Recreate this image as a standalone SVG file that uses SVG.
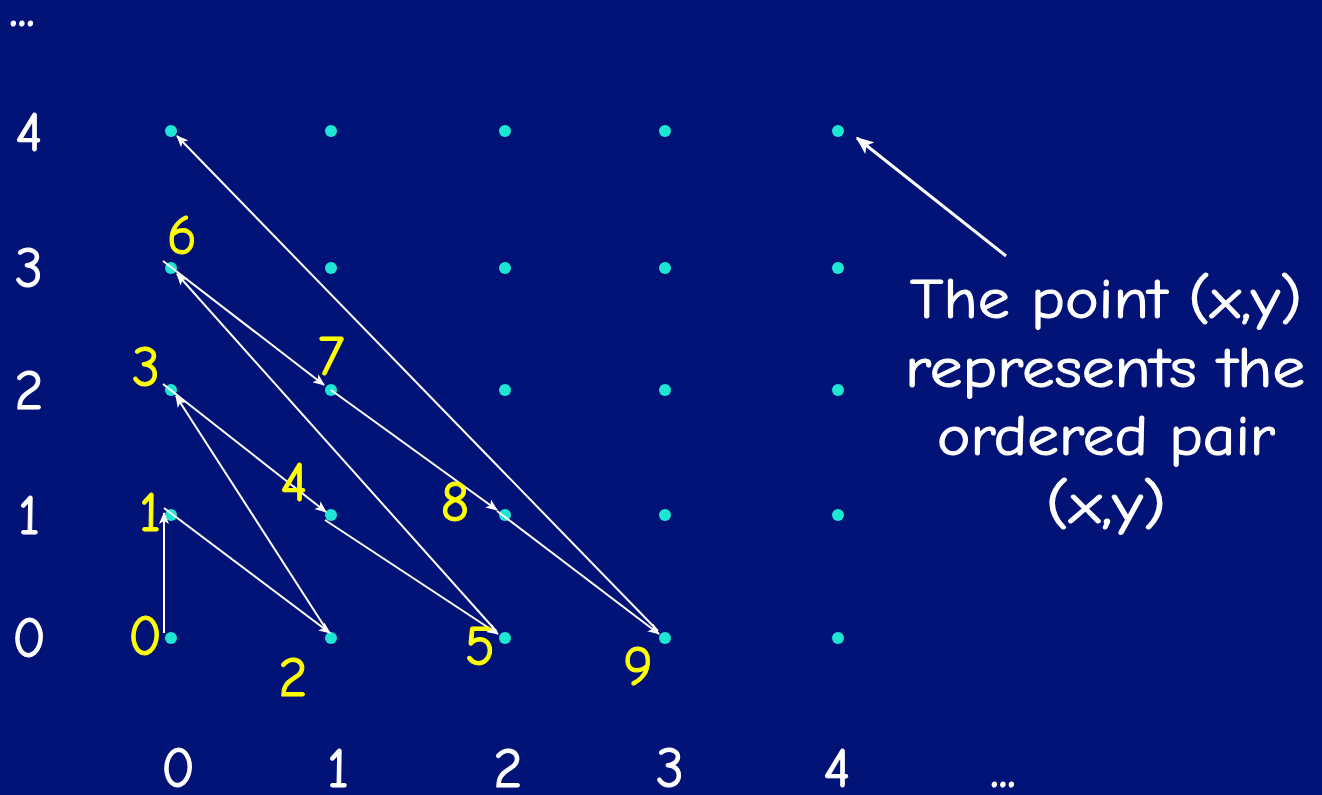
<svg xmlns="http://www.w3.org/2000/svg" width="1322" height="795" viewBox="0 0 1322 795">
<style>
.lbl{font-family:"Comic Neue","DejaVu Sans","Liberation Sans",sans-serif;font-size:56px;fill:#ffffff;stroke:#ffffff;stroke-width:1;text-anchor:middle}
.num{font-family:"Comic Neue","DejaVu Sans","Liberation Sans",sans-serif;font-size:56px;fill:#ffff00;stroke:#ffff00;stroke-width:1;text-anchor:middle}
.dot{fill:#1ee6d2}
.c{stroke:#ffffff;stroke-width:2;fill:none;marker-end:url(#ah)}
</style>
<defs>
<marker id="ah" viewBox="0 0 12 10" refX="11" refY="5" markerWidth="12" markerHeight="10" markerUnits="userSpaceOnUse" orient="auto">
<path d="M0,0 L12,5 L0,10 L3,5 Z" fill="#ffffff"/>
</marker>
<marker id="ah2" viewBox="0 0 12 10" refX="11" refY="5" markerWidth="18" markerHeight="15" markerUnits="userSpaceOnUse" orient="auto">
<path d="M0,0 L12,5 L0,10 L3,5 Z" fill="#ffffff"/>
</marker>
</defs>
<rect width="1322" height="795" fill="#021377"/>
<g id="axes">
<text class="lbl" x="22" y="26">...</text>
<text class="lbl" x="29" y="151">4</text>
<text class="lbl" x="29" y="287">3</text>
<text class="lbl" x="29" y="409">2</text>
<text class="lbl" x="29" y="534">1</text>
<text class="lbl" x="29" y="657">0</text>
<text class="lbl" x="178" y="787">0</text>
<text class="lbl" x="338" y="787">1</text>
<text class="lbl" x="508" y="787">2</text>
<text class="lbl" x="670" y="787">3</text>
<text class="lbl" x="837" y="787">4</text>
<text class="lbl" x="1003" y="787">...</text>
</g>
<g id="dots">
<circle class="dot" cx="171" cy="131" r="6"/><circle class="dot" cx="331" cy="131" r="6"/><circle class="dot" cx="505" cy="131" r="6"/><circle class="dot" cx="665" cy="131" r="6"/><circle class="dot" cx="838" cy="131" r="6"/>
<circle class="dot" cx="171" cy="268" r="6"/><circle class="dot" cx="331" cy="268" r="6"/><circle class="dot" cx="505" cy="268" r="6"/><circle class="dot" cx="665" cy="268" r="6"/><circle class="dot" cx="838" cy="268" r="6"/>
<circle class="dot" cx="171" cy="390" r="6"/><circle class="dot" cx="331" cy="390" r="6"/><circle class="dot" cx="505" cy="390" r="6"/><circle class="dot" cx="665" cy="390" r="6"/><circle class="dot" cx="838" cy="390" r="6"/>
<circle class="dot" cx="171" cy="515" r="6"/><circle class="dot" cx="331" cy="515" r="6"/><circle class="dot" cx="505" cy="515" r="6"/><circle class="dot" cx="665" cy="515" r="6"/><circle class="dot" cx="838" cy="515" r="6"/>
<circle class="dot" cx="171" cy="638" r="6"/><circle class="dot" cx="331" cy="638" r="6"/><circle class="dot" cx="505" cy="638" r="6"/><circle class="dot" cx="665" cy="638" r="6"/><circle class="dot" cx="838" cy="638" r="6"/>
</g>
<g id="connectors">
<line class="c" x1="164" y1="633" x2="164" y2="513"/>
<line class="c" x1="164" y1="508" x2="330" y2="633"/>
<line class="c" x1="328" y1="632" x2="176" y2="396"/>
<line class="c" x1="163" y1="384" x2="326" y2="512"/>
<line class="c" x1="325" y1="520" x2="498" y2="634"/>
<line class="c" x1="497" y1="632" x2="177" y2="274"/>
<line class="c" x1="163" y1="261" x2="324" y2="385"/>
<line class="c" x1="331" y1="390" x2="497" y2="510"/>
<line class="c" x1="497" y1="511" x2="659" y2="634"/>
<line class="c" x1="658" y1="631" x2="177" y2="136"/>
<line x1="1006" y1="256" x2="857" y2="138" stroke="#ffffff" stroke-width="3" marker-end="url(#ah2)"/>
</g>
<g id="order">
<text class="num" x="145" y="655">0</text>
<text class="num" x="150" y="531">1</text>
<text class="num" x="293" y="696">2</text>
<text class="num" x="146" y="386">3</text>
<text class="num" x="294" y="501">4</text>
<text class="num" x="480" y="665">5</text>
<text class="num" x="182" y="254">6</text>
<text class="num" x="331" y="375">7</text>
<text class="num" x="455" y="521">8</text>
<text class="num" x="638" y="685">9</text>
</g>
<g id="note">
<text class="lbl" x="1106" y="318" textLength="392" lengthAdjust="spacingAndGlyphs">The point (x,y)</text>
<text class="lbl" x="1105" y="387" textLength="400" lengthAdjust="spacingAndGlyphs">represents the</text>
<text class="lbl" x="1106" y="455" textLength="338" lengthAdjust="spacingAndGlyphs">ordered pair</text>
<text class="lbl" x="1106" y="523" textLength="120" lengthAdjust="spacingAndGlyphs">(x,y)</text>
</g>
</svg>
